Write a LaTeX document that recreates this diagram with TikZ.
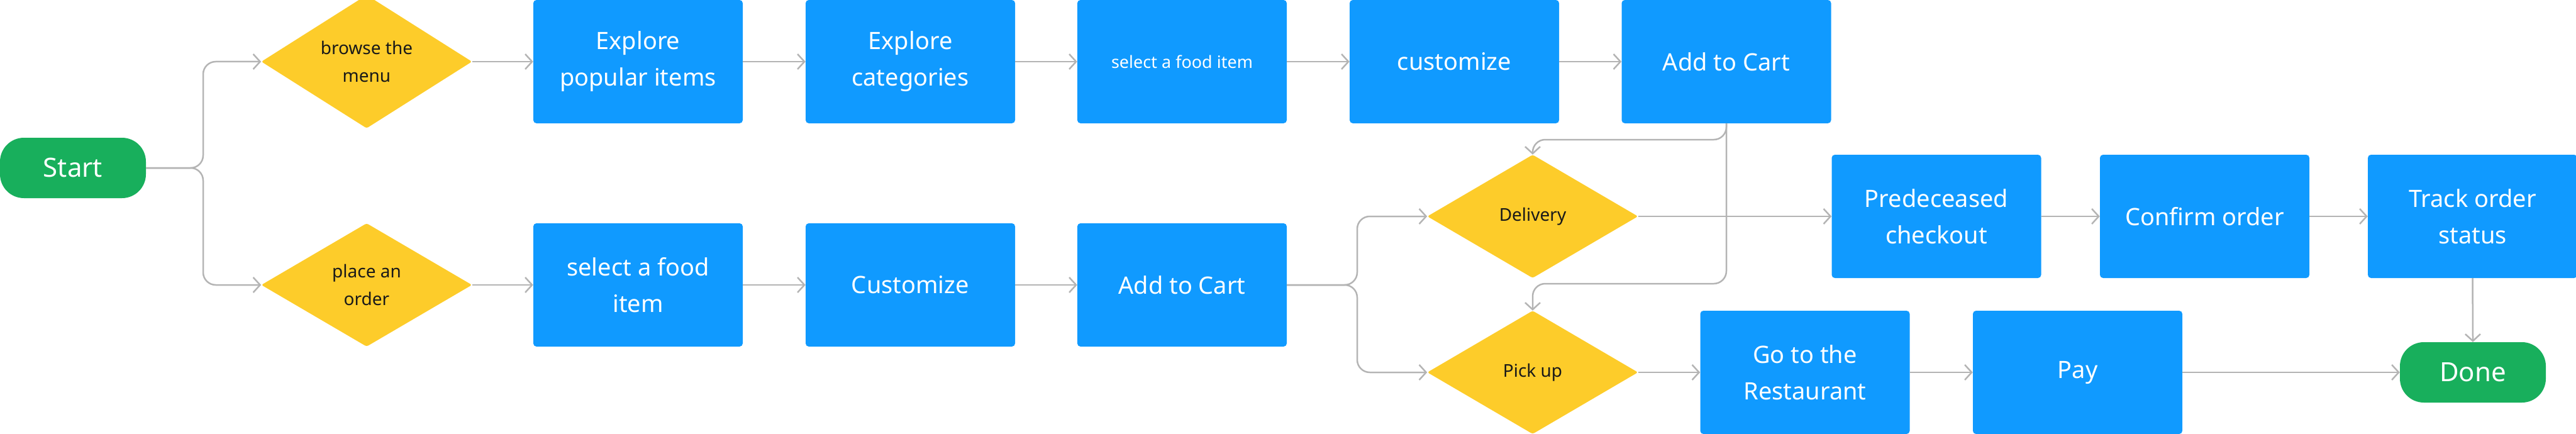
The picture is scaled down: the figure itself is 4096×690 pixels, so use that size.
\documentclass[tikz,border=0pt]{standalone}
\usepackage{fontspec}
\setmainfont{Noto Sans}
\usetikzlibrary{shapes.geometric,arrows.meta}
\definecolor{boxblue}{RGB}{16,154,255}
\definecolor{decyel}{RGB}{253,204,42}
\definecolor{termgreen}{RGB}{24,175,92}
\definecolor{conngray}{RGB}{180,180,180}
\tikzset{
  stepbox/.style={rectangle, fill=boxblue, text=white, minimum width=333pt, minimum height=196pt, rounded corners=5pt, inner sep=0pt, align=center, font=\fontsize{38}{58}\selectfont},
  smallbox/.style={stepbox, font=\fontsize{27}{40}\selectfont},
  decision/.style={diamond, fill=decyel, text=black!90, minimum width=335pt, minimum height=196pt, inner sep=0pt, align=center, rounded corners=3pt, font=\fontsize{28}{44}\selectfont},
  terminal/.style={rectangle, fill=termgreen, text=white, minimum width=232pt, minimum height=96pt, rounded corners=38pt, inner sep=0pt, font=\fontsize{42}{48}\selectfont},
  conn/.style={draw=conngray, line width=2.5pt, rounded corners=20pt, -{Straight Barb[length=11pt,width=24pt,line width=2.5pt]}}
}
\begin{document}
\begin{tikzpicture}[x=1pt,y=-1pt]
\useasboundingbox (0,0) rectangle (4096,690);
\node[terminal] (start) at (116,267) {Start};
\node[decision] (d1) at (583,98) {browse the\\menu};
\node[decision] (d2) at (583,453) {place an\\order};
\node[stepbox] (b1) at (1014.5,98) {Explore\\popular items};
\node[stepbox] (b2) at (1447.5,98) {Explore\\categories};
\node[smallbox] (b3) at (1879.5,98) {select a food item};
\node[stepbox] (b4) at (2312.5,98) {customize};
\node[stepbox] (b5) at (2745,98) {Add to Cart};
\node[stepbox] (c1) at (1014.5,453) {select a food\\item};
\node[stepbox] (c2) at (1447.5,453) {Customize};
\node[stepbox] (c3) at (1879.5,453) {Add to Cart};
\node[decision] (dd) at (2437,344) {Delivery};
\node[decision] (dp) at (2437,592) {Pick up};
\node[stepbox] (p1) at (3079,344) {Predeceased\\checkout};
\node[stepbox] (p2) at (3505.5,344) {Confirm order};
\node[stepbox] (p3) at (3931.5,344) {Track order\\status};
\node[stepbox] (g1) at (2870,592) {Go to the\\Restaurant};
\node[stepbox] (g2) at (3303.5,592) {Pay};
\node[terminal] (done) at (3932,592) {Done};

\draw[conn] (start.east) -- (323,267) |- (d1.west);
\draw[conn] (start.east) -- (323,267) |- (d2.west);
\draw[conn] (d1.east) -- (b1.west);
\draw[conn] (b1.east) -- (b2.west);
\draw[conn] (b2.east) -- (b3.west);
\draw[conn] (b3.east) -- (b4.west);
\draw[conn] (b4.east) -- (b5.west);
\draw[conn] (d2.east) -- (c1.west);
\draw[conn] (c1.east) -- (c2.west);
\draw[conn] (c2.east) -- (c3.west);
\draw[conn] (c3.east) -- (2158,453) |- (dd.west);
\draw[conn] (c3.east) -- (2158,453) |- (dp.west);
\draw[conn] (b5.south) |- (dd.north |- 0,222) -- (dd.north);
\draw[conn] (b5.south) |- (dp.north |- 0,451) -- (dp.north);
\draw[conn] (dd.east) -- (p1.west);
\draw[conn] (p1.east) -- (p2.west);
\draw[conn] (p2.east) -- (p3.west);
\draw[conn] (p3.south) -- (done.north);
\draw[conn] (dp.east) -- (g1.west);
\draw[conn] (g1.east) -- (g2.west);
\draw[conn] (g2.east) -- (done.west);
\end{tikzpicture}
\end{document}
